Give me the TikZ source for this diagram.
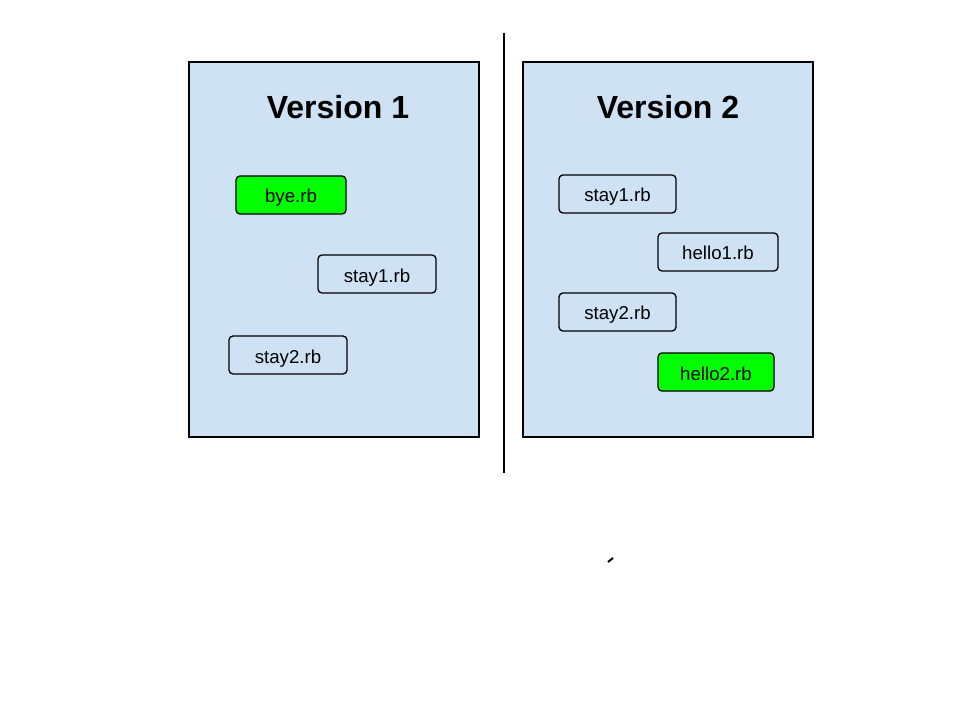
\documentclass[tikz,border=0pt]{standalone}
\usepackage{fontspec}
\setmainfont{Liberation Sans}
\usepackage{tikz}
\usetikzlibrary{positioning}
\usepackage{xcolor}
\definecolor{panelblue}{RGB}{207,226,243}
\definecolor{filegreen}{RGB}{0,255,0}

\tikzset{
  panel/.style={draw=black, line width=1.2pt, fill=panelblue, inner sep=0pt},
  title/.style={font=\fontsize{24}{29}\selectfont\bfseries},
  filebox/.style={draw=black, line width=1pt, rounded corners=3pt, fill=panelblue, minimum height=28.5pt, inner sep=0pt, text height=12pt, text depth=0pt, font=\fontsize{14}{17}\selectfont},
  newfile/.style={filebox, fill=filegreen}
}

\begin{document}
\begin{tikzpicture}[x=0.75pt,y=-0.75pt]
  \useasboundingbox (0,0) rectangle (960,720);

  % divider
  \coordinate (top) at (504,33);
  \coordinate (bottom) at (504,473);
  \draw[line width=1.5pt] (top) -- (bottom);

  % Version 1
  \node[panel, minimum width=217.5pt, minimum height=281.25pt] (v1) at (334,249.5) {};
  \node[title] (v1title) at (338,107) {Version 1};
  \node[newfile, minimum width=82.5pt] (bye) at (291,195) {bye.rb};
  \node[filebox, minimum width=88.5pt] (v1stay1) at (377,274) {stay1.rb};
  \node[filebox, minimum width=88.5pt] (v1stay2) at (288,355) {stay2.rb};

  % Version 2
  \node[panel, minimum width=217.5pt, minimum height=281.25pt] (v2) at (668,249.5) {};
  \node[title] (v2title) at (668,107) {Version 2};
  \node[filebox, minimum width=87.75pt] (v2stay1) at (617.5,194) {stay1.rb};
  \node[filebox, minimum width=90pt] (hello1) at (718,252) {hello1.rb};
  \node[filebox, minimum width=87.75pt] (v2stay2) at (617.5,312) {stay2.rb};
  \node[newfile, minimum width=87pt] (hello2) at (716,372) {hello2.rb};

  % stray mark
  \coordinate (m1) at (608,562);
  \coordinate (m2) at (613,558);
  \draw[line width=1.5pt] (m1) -- (m2);
\end{tikzpicture}
\end{document}
